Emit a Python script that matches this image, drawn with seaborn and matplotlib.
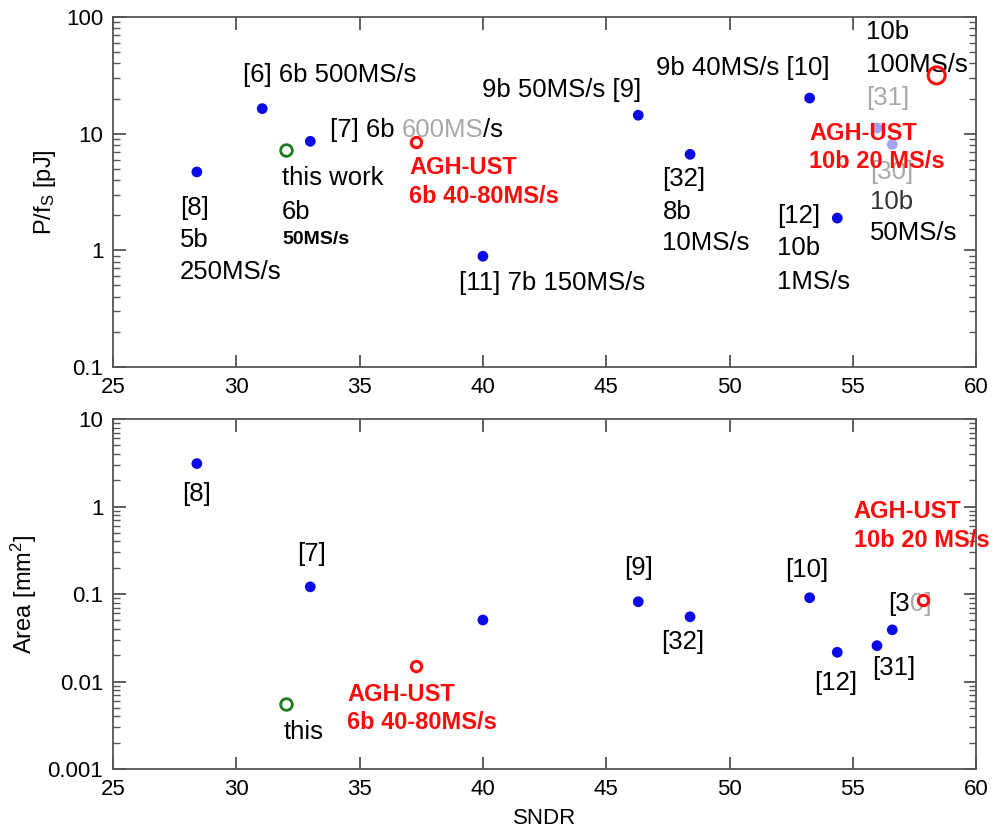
import matplotlib
matplotlib.use("Agg")
import matplotlib.pyplot as plt
import matplotlib.ticker as mticker
import seaborn as sns
import pandas as pd

# datos (SNDR en dB)
ref_labels = ["[8]", "[6]", "[7]", "[11]", "[9]", "[32]", "[10]", "[12]", "[31]", "[30]"]
ref_sndr = [28.4, 31.05, 33.0, 40.0, 46.3, 48.4, 53.25, 54.37, 55.98, 56.6]
ref_energy = [4.7, 16.4, 8.6, 0.89, 14.4, 6.65, 20.2, 1.89, 11.2, 8.1]
ref_area = [3.1, None, 0.121, 0.0505, 0.0817, 0.055, 0.0908, 0.0216, 0.0257, 0.039]

this_sndr = [32.0]
this_energy = [7.3]
this_area = [0.0055]

agh_labels = ["AGH-UST 6b", "AGH-UST 10b"]
agh_sndr_top = [37.3, 58.4]
agh_energy = [8.5, 31.6]
agh_sndr_bottom = [37.3, 57.85]
agh_area = [0.015, 0.0853]

sns.set_style("ticks")
plt.rcParams["font.family"] = ["Liberation Sans", "DejaVu Sans"]
plt.rcParams["mathtext.default"] = "regular"
plt.rcParams["text.color"] = "black"
plt.rcParams["axes.labelcolor"] = "black"

BLUE = "#0a0ae6"
LIGHT = "#a3a3f2"
GREEN = "#1d7a1d"
RED = "#ff0a0a"
GRAY = "#a8a8a8"

df = pd.DataFrame({"label": ref_labels, "sndr": ref_sndr,
                   "energy": ref_energy, "area": ref_area})
df["tono"] = ["claro" if l in ("[31]", "[30]") else "normal" for l in ref_labels]

fig = plt.figure(figsize=(9.94, 8.35), dpi=100)
ax1 = fig.add_axes([0.1137, 0.5605, 0.8683, 0.4191])
ax2 = fig.add_axes([0.1137, 0.0790, 0.8683, 0.4191])


def estilo(ax, ymin, ymax, ylabel):
    ax.set_yscale("log")
    ax.set_xlim(25, 60)
    ax.set_ylim(ymin, ymax)
    ax.set_xticks(range(25, 61, 5))
    ax.yaxis.set_major_formatter(mticker.FuncFormatter(lambda v, p: f"{v:g}"))
    ax.yaxis.set_minor_locator(mticker.LogLocator(base=10, subs=range(2, 10)))
    ax.yaxis.set_minor_formatter(mticker.NullFormatter())
    ax.tick_params(which="major", direction="in", length=9, width=1.1,
                   top=True, right=True, labelsize=16, colors="#333333",
                   labelcolor="black", pad=7)
    ax.tick_params(which="minor", direction="in", length=5, width=1,
                   right=True, colors="#555555")
    for s in ax.spines.values():
        s.set_color("#555555")
        s.set_linewidth(1.3)
    ax.set_ylabel(ylabel, fontsize=17, labelpad=6)
    ax.set_xlabel("")
    ax.set_facecolor("white")


def multicolor(ax, x, y, partes, **kw):
    # texto en varios colores encadenados
    t = ax.text(x, y, partes[0][0], color=partes[0][1], ha="left", va="center", **kw)
    for txt, col in partes[1:]:
        t = ax.annotate(txt, xy=(1, 0), xycoords=t, ha="left", va="bottom",
                        color=col, **kw)


# ---------- panel superior: P/fs ----------
sns.scatterplot(data=df, x="sndr", y="energy", hue="tono",
                palette={"normal": BLUE, "claro": LIGHT}, s=60,
                edgecolor="none", legend=False, ax=ax1, zorder=3)
sns.scatterplot(x=this_sndr, y=this_energy, color="white", edgecolor=GREEN,
                linewidth=2, s=70, ax=ax1, zorder=4)
sns.scatterplot(x=agh_sndr_top[:1], y=agh_energy[:1], color="white", edgecolor=RED,
                linewidth=2.2, s=55, ax=ax1, zorder=4)
sns.scatterplot(x=agh_sndr_top[1:], y=agh_energy[1:], color="none", edgecolor=RED,
                linewidth=2.2, s=150, ax=ax1, zorder=4)
estilo(ax1, 0.1, 100, "P/f$_S$ [pJ]")

fs = 18.5
fr = 17
ax1.text(30.27, 31.8, "[6] 6b 500MS/s", fontsize=fs, va="center")
multicolor(ax1, 33.8, 10.8, [("[7] 6b ", "black"), ("600MS", GRAY), ("/s", "black")], fontsize=fs)
ax1.text(31.85, 4.17, "this work", fontsize=fs, va="center")
ax1.text(31.85, 2.13, "6b", fontsize=fs, va="center")
ax1.text(31.85, 1.23, "50MS/s", fontsize=14, fontweight="bold", va="center")
ax1.text(27.72, 2.31, "[8]", fontsize=fs, va="center")
ax1.text(27.72, 1.23, "5b", fontsize=fs, va="center")
ax1.text(27.72, 0.653, "250MS/s", fontsize=fs, va="center")
ax1.text(37.0, 5.08, "AGH-UST", fontsize=fr, color=RED, fontweight="bold", va="center")
ax1.text(37.0, 2.87, "6b 40-80MS/s", fontsize=fr, color=RED, fontweight="bold", va="center")
ax1.text(39.03, 0.526, "[11] 7b 150MS/s", fontsize=fs, va="center")
ax1.text(46.43, 23.7, "9b 50MS/s [9]", fontsize=fs, va="center", ha="right")
ax1.text(47.28, 4.09, "[32]", fontsize=fs, va="center")
ax1.text(47.28, 2.13, "8b", fontsize=fs, va="center")
ax1.text(47.28, 1.157, "10MS/s", fontsize=fs, va="center")
ax1.text(47.0, 36.6, "9b 40MS/s [10]", fontsize=fs, va="center")
ax1.text(51.94, 1.97, "[12]", fontsize=fs, va="center")
ax1.text(51.94, 1.05, "10b", fontsize=fs, va="center")
ax1.text(51.94, 0.54, "1MS/s", fontsize=fs, va="center")
ax1.text(55.55, 74.4, "10b", fontsize=fs, va="center")
ax1.text(55.55, 38.8, "100MS/s", fontsize=fs, va="center")
ax1.text(55.55, 20.2, "[31]", fontsize=fs, va="center", color=GRAY)
ax1.text(55.7, 4.7, "[30]", fontsize=fs, va="center", color=GRAY)
ax1.text(55.7, 2.6, "10b", fontsize=fs, va="center", color="#333333")
ax1.text(55.7, 1.41, "50MS/s", fontsize=fs, va="center")
ax1.text(53.23, 10.1, "AGH-UST", fontsize=fr, color=RED, fontweight="bold", va="center", zorder=5)
ax1.text(53.23, 5.72, "10b 20 MS/s", fontsize=fr, color=RED, fontweight="bold", va="center", zorder=5)

# ---------- panel inferior: area ----------
dfa = df.dropna(subset=["area"])
sns.scatterplot(data=dfa, x="sndr", y="area", color=BLUE, s=60,
                edgecolor="none", legend=False, ax=ax2, zorder=3)
sns.scatterplot(x=this_sndr, y=this_area, color="white", edgecolor=GREEN,
                linewidth=2, s=70, ax=ax2, zorder=4)
sns.scatterplot(x=agh_sndr_bottom, y=agh_area, color="white", edgecolor=RED,
                linewidth=2.2, s=55, ax=ax2, zorder=4)
estilo(ax2, 0.001, 10, "Area [mm$^2$]")
ax2.set_xlabel("SNDR", fontsize=16, labelpad=6)

ax2.text(28.4, 1.39, "[8]", fontsize=fs, ha="center", va="center")
ax2.text(33.07, 0.286, "[7]", fontsize=fs, ha="center", va="center")
ax2.text(31.9, 0.00265, "this", fontsize=fs, va="center")
ax2.text(34.5, 0.0072, "AGH-UST", fontsize=fr, color=RED, fontweight="bold", va="center")
ax2.text(34.5, 0.00336, "6b 40-80MS/s", fontsize=fr, color=RED, fontweight="bold", va="center")
ax2.text(46.3, 0.198, "[9]", fontsize=fs, ha="center", va="center")
ax2.text(48.1, 0.0283, "[32]", fontsize=fs, ha="center", va="center")
ax2.text(53.13, 0.189, "[10]", fontsize=fs, ha="center", va="center")
ax2.text(54.29, 0.0096, "[12]", fontsize=fs, ha="center", va="center")
ax2.text(56.67, 0.0144, "[31]", fontsize=fs, ha="center", va="center")
multicolor(ax2, 56.43, 0.0769, [("[3", "black"), ("0]", GRAY)], fontsize=fs)
ax2.text(55.04, 0.873, "AGH-UST", fontsize=fr, color=RED, fontweight="bold", va="center")
ax2.text(55.04, 0.414, "10b 20 MS/s", fontsize=fr, color=RED, fontweight="bold", va="center")

fig.savefig("out.png", dpi=100, facecolor="white")
